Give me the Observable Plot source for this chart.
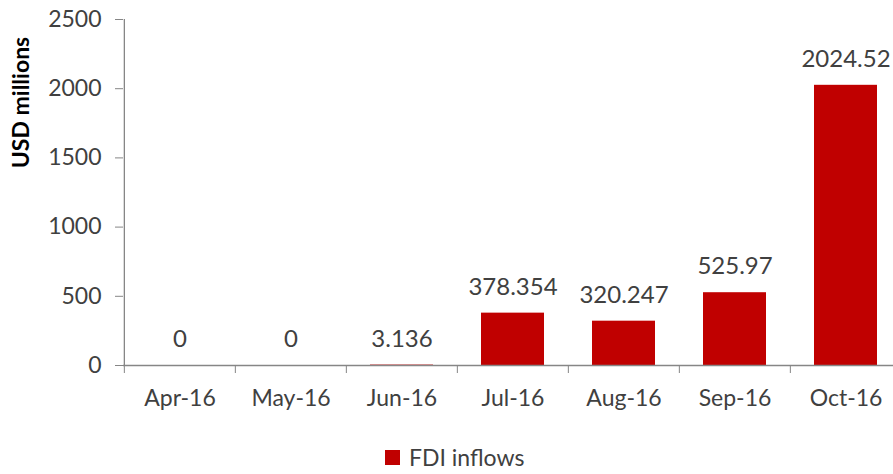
<!DOCTYPE html>
<html>
<head>
<meta charset="utf-8">
<script src="https://cdn.jsdelivr.net/npm/d3@7"></script>
<script src="https://cdn.jsdelivr.net/npm/@observablehq/plot@0.6"></script>
<style>
  html, body { margin: 0; padding: 0; background: #fff; overflow: hidden; }
  #legend { position: relative; height: 44px; font-family: Lato, sans-serif; font-size: 23px; color: #404040; }
  #legend .item { position: absolute; left: 385px; top: 14px; display: flex; align-items: center; height: 26px; }
  #legend .sw { width: 15px; height: 15px; background: #C00000; margin-right: 9px; }
</style>
</head>
<body>
<div id="chart"></div>
<script>
const categories = ["Apr-16", "May-16", "Jun-16", "Jul-16", "Aug-16", "Sep-16", "Oct-16"];
const fdiInflows = [0, 0, 3.136, 378.354, 320.247, 525.97, 2024.52];
const labels = ["0", "0", "3.136", "378.354", "320.247", "525.97", "2024.52"];
const yTicks = [0, 500, 1000, 1500, 2000, 2500];
const seriesName = "FDI inflows";
const yTitle = "USD millions";

const data = categories.map((c, i) => ({month: c, value: fdiInflows[i], label: labels[i]}));

const xRange = [123, 902];
const step = (xRange[1] - xRange[0]) / categories.length;
const axisColor = "#868686";
const textColor = "#404040";

const chart = Plot.plot({
  width: 893,
  height: 430,
  marginTop: 19,
  marginBottom: 65,
  marginLeft: 123,
  marginRight: 0,
  style: {fontFamily: "Lato, sans-serif", color: textColor, overflow: "hidden", background: "#fff"},
  x: {domain: categories, range: xRange, paddingInner: 0.43, paddingOuter: 0.215},
  y: {domain: [0, 2500]},
  marks: [
    Plot.barY(data, {x: "month", y: "value", fill: "#C00000"}),
    Plot.ruleY([0], {stroke: axisColor, strokeWidth: 1.3}),
    Plot.ruleX([categories[0]], {dx: -step / 2, y1: 0, y2: 2500, stroke: axisColor, strokeWidth: 1.3}),
    Plot.axisY({ticks: yTicks, tickFormat: d3.format("d"), tickSize: 8, tickPadding: 14, stroke: axisColor, fontSize: 23, fill: textColor, label: null}),
    Plot.axisX({tickSize: 8, dx: -step / 2, tickFormat: () => "", stroke: axisColor, label: null}),
    Plot.axisX({tickSize: 0, tickPadding: 24, fontSize: 23, fill: textColor, label: null}),
    Plot.text(data, {x: "month", y: "value", text: "label", dy: -26, lineAnchor: "middle", fontSize: 24, fill: textColor}),
    Plot.text([yTitle], {frameAnchor: "top-left", rotate: -90, dx: -102, dy: 83, textAnchor: "middle", lineAnchor: "middle", fontSize: 23, fontWeight: "bold", fill: "#000"})
  ]
});
document.getElementById("chart").appendChild(chart);

const legend = document.createElement("div");
legend.id = "legend";
legend.innerHTML = `<div class="item"><div class="sw"></div><span>${seriesName}</span></div>`;
document.body.appendChild(legend);
</script>
</body>
</html>
